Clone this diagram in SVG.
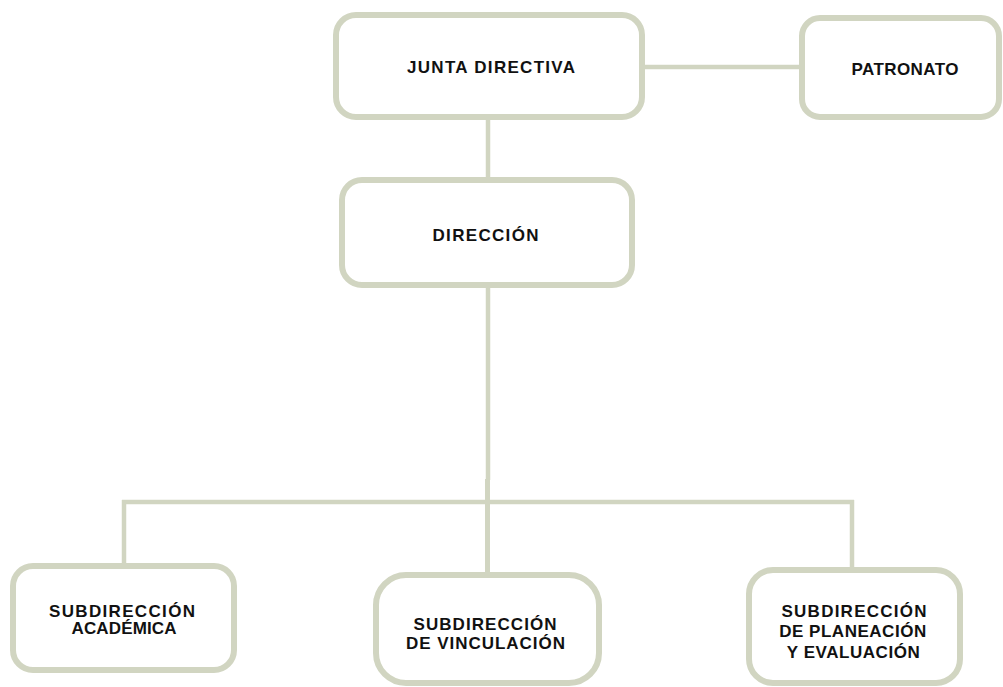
<svg xmlns="http://www.w3.org/2000/svg" width="1003" height="687" viewBox="0 0 1003 687">
<style>
.box{fill:#fff;stroke:#D1D5C1;stroke-width:6}
.ln{stroke:#D1D5C1;stroke-width:4.5;fill:none}
.t{font-family:"Liberation Sans",Arial,sans-serif;font-weight:bold;font-size:17px;fill:#111;text-anchor:middle}
</style>
<rect width="1003" height="687" fill="#fff"/>
<g id="connectors">
<line class="ln" x1="645" y1="67" x2="800" y2="67"/>
<line class="ln" x1="488" y1="117" x2="488" y2="180"/>
<line class="ln" x1="488" y1="285" x2="488" y2="480"/>
<line class="ln" x1="487.5" y1="479" x2="487.5" y2="575" style="stroke-width:5"/>
<line class="ln" x1="122" y1="502" x2="854" y2="502"/>
<line class="ln" x1="124" y1="500" x2="124" y2="566"/>
<line class="ln" x1="852" y1="500" x2="852" y2="570"/>
</g>
<g id="junta">
<rect class="box" x="336" y="15" width="306" height="102" rx="20"/>
<text class="t" x="491" y="73" textLength="168" lengthAdjust="spacing">JUNTA DIRECTIVA</text>
</g>
<g id="patronato">
<rect class="box" x="802" y="18" width="197" height="99" rx="18"/>
<text class="t" x="905" y="75" textLength="107" lengthAdjust="spacing">PATRONATO</text>
</g>
<g id="direccion">
<rect class="box" x="342" y="180" width="290" height="105" rx="20"/>
<text class="t" x="485.5" y="241" textLength="106" lengthAdjust="spacing">DIRECCIÓN</text>
</g>
<g id="academica">
<rect class="box" x="13" y="566" width="221" height="104" rx="20"/>
<text class="t" x="122" y="617" textLength="146" lengthAdjust="spacing">SUBDIRECCIÓN</text>
<text class="t" x="124" y="634" textLength="105" lengthAdjust="spacing">ACADÉMICA</text>
</g>
<g id="vinculacion">
<rect class="box" x="376" y="575" width="223" height="108" rx="30"/>
<text class="t" x="485" y="630" textLength="143" lengthAdjust="spacing">SUBDIRECCIÓN</text>
<text class="t" x="485.5" y="649" textLength="159" lengthAdjust="spacing">DE VINCULACIÓN</text>
</g>
<g id="evaluacion">
<rect class="box" x="749" y="570" width="211" height="113" rx="24"/>
<text class="t" x="854" y="617" textLength="145" lengthAdjust="spacing">SUBDIRECCIÓN</text>
<text class="t" x="852.7" y="637" textLength="147" lengthAdjust="spacing">DE PLANEACIÓN</text>
<text class="t" x="853.3" y="658" textLength="133" lengthAdjust="spacing">Y EVALUACIÓN</text>
</g>
</svg>
